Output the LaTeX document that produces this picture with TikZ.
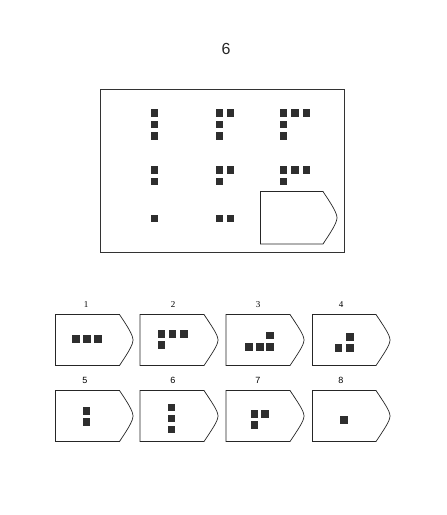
\documentclass[tikz,border=0pt]{standalone}
\usepackage{fontspec}
\newfontfamily\serfont{Liberation Serif}
\newfontfamily\sansfont{Liberation Sans}
\tikzset{
  frame/.style={draw=black!80, line width=0.8pt},
  tabshape/.style={draw=black!85, line width=0.7pt, fill=white},
  sqfill/.style={fill=black!82},
  lblser/.style={font=\serfont\fontsize{9}{9}\selectfont, inner sep=0pt},
  lblsan/.style={font=\sansfont\fontsize{9}{9}\selectfont, inner sep=0pt},
}
\newcommand{\sqq}[2]{\fill[sqfill] (#1,#2) rectangle ++(7.5,7.5);}
% #1 left, #2 top, #3 straight length, #4 apex offset, #5 height
\newcommand{\tabbox}[5]{%
  \draw[tabshape] (#1,#2) -- ++(#3,0)
    .. controls ++(8,12) and ++(0,-5) .. ++(#4-#3,#5/2)
    .. controls ++(0,5) and ++(8,-12) .. ++(#3-#4,#5/2)
    -- ++(-#3,0) -- cycle;}
\begin{document}
\begin{tikzpicture}[x=1pt,y=-1pt]
\useasboundingbox (0,0) rectangle (447,515);
\node[font=\sansfont\fontsize{16}{16}\selectfont, inner sep=0pt, text=black!85] (title) at (226,49) {6};
% main frame
\draw[frame] (100,89.5) rectangle (344,252);
% row 1
\sqq{150.5}{109}\sqq{150.5}{120.5}\sqq{150.5}{132}
\sqq{215.5}{109}\sqq{226.5}{109}\sqq{215.5}{120.5}\sqq{215.5}{132}
\sqq{279.5}{109}\sqq{291}{109}\sqq{302.5}{109}\sqq{279.5}{120.5}\sqq{279.5}{132}
% row 2
\sqq{150.5}{166}\sqq{150.5}{177.5}
\sqq{215.5}{166}\sqq{226.5}{166}\sqq{215.5}{177.5}
\sqq{279.5}{166}\sqq{291}{166}\sqq{302.5}{166}\sqq{279.5}{177.5}
% row 3
\sqq{150.5}{214.5}
\sqq{215.5}{214.5}\sqq{226.5}{214.5}
\tabbox{260.5}{191.5}{62.5}{76.5}{52.5}
% options row 1
\tabbox{55.5}{314.5}{64}{77.5}{51}
\tabbox{140}{314.5}{64}{78}{51}
\tabbox{226}{314.5}{64}{78}{51}
\tabbox{312.5}{314.5}{63.5}{77.5}{51}
\node[lblser] (l1) at (86,305) {1};
\node[lblser] (l2) at (173,305) {2};
\node[lblser] (l3) at (258,305) {3};
\node[lblser] (l4) at (341,305) {4};
% option 1
\sqq{72}{335}\sqq{83}{335}\sqq{94}{335}
% option 2
\sqq{157.5}{330}\sqq{168.5}{330}\sqq{180}{330}\sqq{157.5}{341}
% option 3
\sqq{245}{343}\sqq{256}{343}\sqq{266}{343}\sqq{266}{331.5}
% option 4
\sqq{334.5}{344}\sqq{346}{344}\sqq{346}{333}
% options row 2
\tabbox{55.5}{390.5}{64}{77.5}{51}
\tabbox{140}{390.5}{64}{78}{51}
\tabbox{226}{390.5}{64}{78}{51}
\tabbox{312.5}{390.5}{63.5}{77.5}{51}
\node[lblsan] (l5) at (85,380) {5};
\node[lblsan] (l6) at (173,380) {6};
\node[lblsan] (l7) at (258,380) {7};
\node[lblsan] (l8) at (341,380) {8};
% option 5
\sqq{82.5}{407}\sqq{82.5}{418}
% option 6
\sqq{167.5}{403.5}\sqq{167.5}{414.5}\sqq{167.5}{425.5}
% option 7
\sqq{250.5}{410}\sqq{261}{410}\sqq{250.5}{421}
% option 8
\sqq{340}{416}
\end{tikzpicture}
\end{document}
